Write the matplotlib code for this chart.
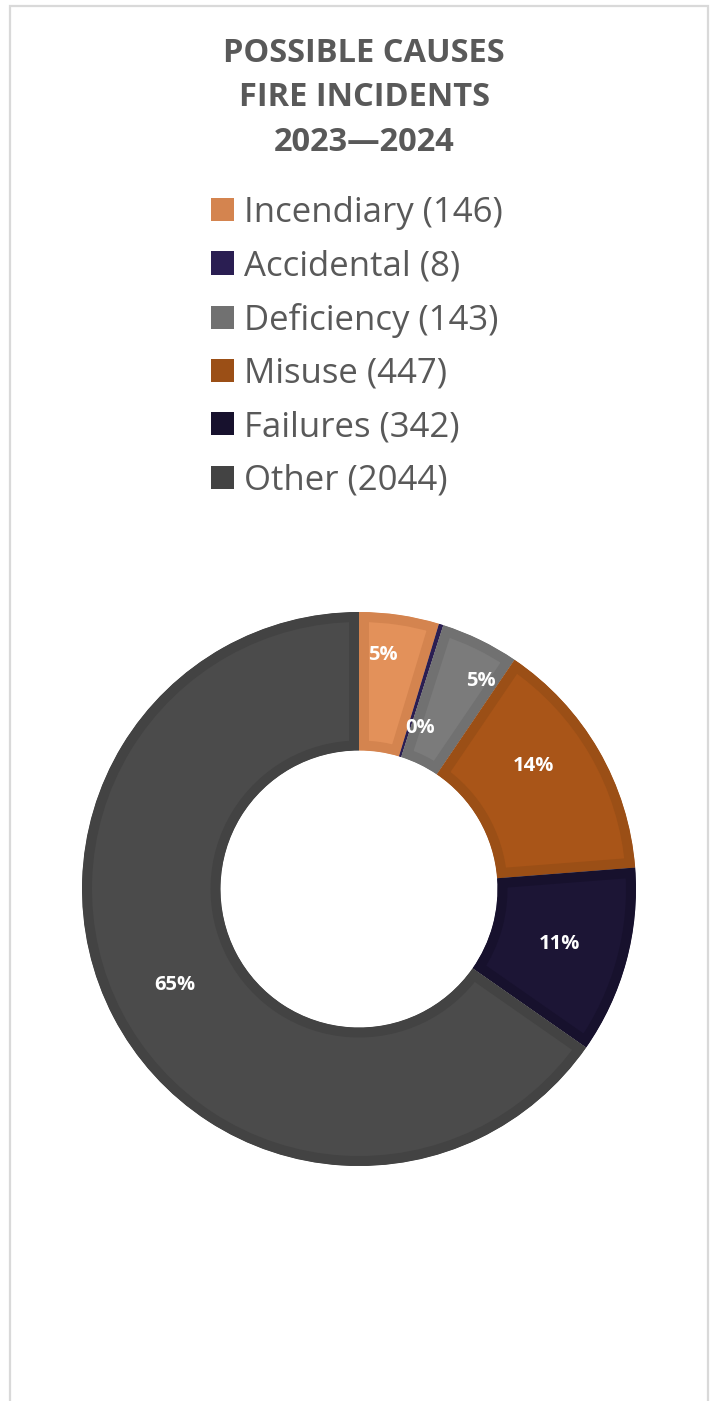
import numpy as np
import matplotlib.pyplot as plt
from matplotlib.patches import Patch, Rectangle

categories = ["Incendiary", "Accidental", "Deficiency", "Misuse", "Failures", "Other"]
counts = [146, 8, 143, 447, 342, 2044]
fill_colors = ["#E3915A", "#2A1E52", "#7B7B7B", "#A95518", "#1C1535", "#4B4B4B"]
edge_colors = ["#D4844F", "#2A1E52", "#717171", "#9B4F16", "#17112D", "#434343"]
title = "POSSIBLE CAUSES\nFIRE INCIDENTS\n2023\u20142024"

plt.rcParams['font.family'] = ['Open Sans', 'DejaVu Sans']
text_gray = "#595959"

W, H = 710, 1401
fig = plt.figure(figsize=(W / 100, H / 100), dpi=100)

# light frame round the chart area (bottom edge falls off the image)
fig.patches.append(Rectangle((10 / W, -0.05), 698 / W, 1.05 - 6 / H,
                             transform=fig.transFigure, fill=False,
                             edgecolor="#D9D9D9", linewidth=1.6))

fig.text(0.513, 1 - 98 / H, title, ha="center", va="center", fontsize=23.5,
         fontweight="bold", color=text_gray, linespacing=1.46)

handles = [Patch(facecolor=c, edgecolor="none") for c in edge_colors]
labels = ["{} ({})".format(n, v) for n, v in zip(categories, counts)]
fig.legend(handles, labels, loc="upper left", bbox_to_anchor=(211 / W, 1 - 196 / H),
           frameon=False, fontsize=25, handlelength=0.65, handleheight=0.65,
           handletextpad=0.3, labelspacing=0.555, labelcolor=text_gray,
           borderpad=0, borderaxespad=0)

# donut
cx, cy, r = 359, 889, 277
ax = fig.add_axes([(cx - r) / W, (H - cy - r) / H, 2 * r / W, 2 * r / H])
wedges, _ = ax.pie(counts, colors=fill_colors, startangle=90, counterclock=False,
                   radius=1, wedgeprops=dict(width=0.5, linewidth=14.4))
for w, ec in zip(wedges, edge_colors):
    w.set_edgecolor(ec)
    w.set_clip_on(True)
    w.set_clip_path(w)  # keep only the inner half of the stroke

total = sum(counts)
pcts = [100 * v / total for v in counts]
label_r = [0.85, 0.62, 0.87, 0.77, 0.75, 0.75]
label_shift = [2.5, -3.5, -4.5, 5, 0, 0]
for w, p, lr, sh in zip(wedges, pcts, label_r, label_shift):
    mid = np.deg2rad((w.theta1 + w.theta2) / 2 + sh)
    ax.text(lr * np.cos(mid), lr * np.sin(mid), "{:.0f}%".format(p),
            ha="center", va="center", color="white", fontsize=14.5, fontweight="bold")

ax.set_xlim(-1, 1)
ax.set_ylim(-1, 1)
ax.set_aspect("equal")
ax.axis("off")

fig.savefig("out.png", dpi=100, facecolor="white")
